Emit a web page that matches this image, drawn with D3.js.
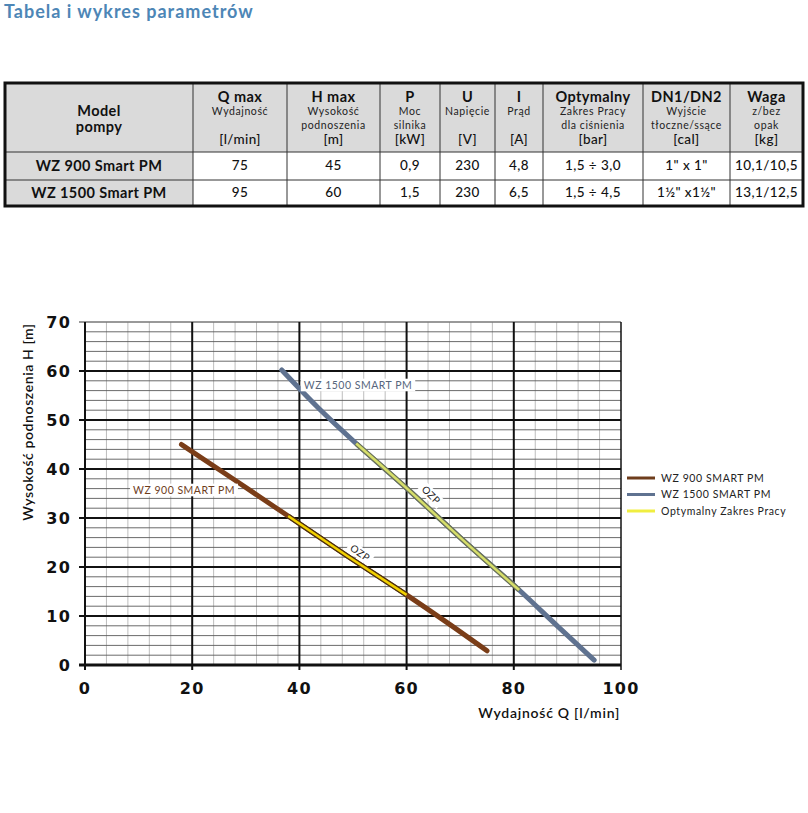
<!DOCTYPE html>
<html><head><meta charset="utf-8">
<script src="https://cdn.jsdelivr.net/npm/d3@7"></script>
<style>
html,body{margin:0;padding:0;background:#fff;}
svg{display:block;font-family:Lato, "Open Sans", sans-serif;}
</style></head>
<body>
<svg id="c" width="808" height="813"></svg>
<script>
// ---------- DATA ----------
const title = "Tabela i wykres parametrów";
const headTitles = ["", "Q max", "H max", "P", "U", "I", "Optymalny", "DN1/DN2", "Waga"];
const headSubs = [["Model","pompy"], ["Wydajność"], ["Wysokość","podnoszenia"], ["Moc","silnika"], ["Napięcie"], ["Prąd"], ["Zakres Pracy","dla ciśnienia"], ["Wyjście","tłoczne/ssące"], ["z/bez","opak"]];
const headUnits = ["", "[l/min]", "[m]", "[kW]", "[V]", "[A]", "[bar]", "[cal]", "[kg]"];
const row1 = ["WZ 900 Smart PM", "75", "45", "0,9", "230", "4,8", "1,5 ÷ 3,0", "1\" x 1\"", "10,1/10,5"];
const row2 = ["WZ 1500 Smart PM", "95", "60", "1,5", "230", "6,5", "1,5 ÷ 4,5", "1½\" x1½\"", "13,1/12,5"];

const seriesNames = ["WZ 900 SMART PM", "WZ 1500 SMART PM", "Optymalny Zakres Pracy"];
const wz900Q = [18, 28, 37.9, 49, 60, 67.5, 75];
const wz900H = [45, 37.7, 30.4, 22.2, 14.3, 8.7, 2.9];
const wz1500Q = [36.7, 43.5, 50.6, 60, 70, 81, 88, 95];
const wz1500H = [60.2, 52.5, 45.2, 36.1, 26, 15.3, 8.1, 1];
const ozp900Q = [37.9, 49, 60];
const ozp900H = [30.4, 22.2, 14.3];
const ozp1500Q = [50.6, 60, 70, 81];
const ozp1500H = [45.2, 36.1, 26, 15.3];
const xTicks = [0, 20, 40, 60, 80, 100];
const yTicks = [0, 10, 20, 30, 40, 50, 60, 70];
const xTitle = "Wydajność Q [l/min]";
const yTitle = "Wysokość podnoszenia H [m]";

// ---------- DRAW ----------
const svg = d3.select("#c");

svg.append("text").attr("x", 4).attr("y", 18).attr("font-size", 18).attr("font-weight", 700)
  .attr("letter-spacing", 1).attr("fill", "#4d86b6").text(title);

// table
const colX = [5, 193, 287, 380, 440, 495, 543, 643, 730, 803];
const rowY = [83, 152, 180, 206];
const tbl = svg.append("g").attr("letter-spacing", 0.4);
tbl.append("rect").attr("x", colX[0]).attr("y", rowY[0]).attr("width", colX[9]-colX[0]).attr("height", rowY[1]-rowY[0]).attr("fill", "#dadada");
tbl.append("rect").attr("x", colX[0]).attr("y", rowY[0]).attr("width", colX[1]-colX[0]).attr("height", rowY[3]-rowY[0]).attr("fill", "#dadada");
for (let i = 1; i < 9; i++) tbl.append("line").attr("x1", colX[i]).attr("x2", colX[i]).attr("y1", rowY[0]).attr("y2", rowY[3]).attr("stroke", "#333").attr("stroke-width", 1);
for (let j = 1; j < 3; j++) tbl.append("line").attr("x1", colX[0]).attr("x2", colX[9]).attr("y1", rowY[j]).attr("y2", rowY[j]).attr("stroke", "#333").attr("stroke-width", 1);
tbl.append("rect").attr("x", colX[0]).attr("y", rowY[0]).attr("width", colX[9]-colX[0]).attr("height", rowY[3]-rowY[0])
  .attr("fill", "none").attr("stroke", "#111").attr("stroke-width", 3);

for (let i = 0; i < 9; i++) {
  const cx = (colX[i] + colX[i+1]) / 2;
  const g = tbl.append("g").attr("text-anchor", "middle").attr("fill", "#111");
  if (i === 0) {
    headSubs[0].forEach((t, k) => g.append("text").attr("x", cx).attr("y", 111 + k*16).attr("dy", "0.35em")
      .attr("font-size", 14.5).attr("font-weight", 700).text(t));
  } else {
    g.append("text").attr("x", cx).attr("y", 97).attr("dy", "0.35em").attr("font-size", 14.5).attr("font-weight", 700).text(headTitles[i]);
    headSubs[i].forEach((t, k) => g.append("text").attr("x", cx).attr("y", 111.5 + k*13.5).attr("dy", "0.35em")
      .attr("font-size", 10.5).attr("letter-spacing", 0.6).attr("fill", "#222").text(t));
    g.append("text").attr("x", cx).attr("y", 139.5).attr("dy", "0.35em").attr("font-size", 13.5).attr("font-weight", 500).text(headUnits[i]);
  }
  [row1, row2].forEach((r, k) => {
    g.append("text").attr("x", cx).attr("y", k === 0 ? 165.5 : 192.5).attr("dy", "0.35em")
      .attr("font-size", i === 0 ? 14.5 : 13.5).attr("font-weight", i === 0 ? 700 : 500).text(r[i]);
  });
}

// chart
const x = d3.scaleLinear().domain([0, 100]).range([85, 621]);
const y = d3.scaleLinear().domain([0, 70]).range([665, 322]);
const grid = svg.append("g");
d3.range(0, 101, 4).filter(v => v % 20 !== 0).forEach(v => {
  grid.append("line").attr("x1", x(v)).attr("x2", x(v)).attr("y1", y(70)).attr("y2", y(0)).attr("stroke", "#bdbdbd").attr("stroke-width", 1);
});
d3.range(2, 70, 2).filter(v => v % 10 !== 0).forEach(v => {
  grid.append("line").attr("x1", x(0)).attr("x2", x(100)).attr("y1", y(v)).attr("y2", y(v)).attr("stroke", "#5a5a5a").attr("stroke-width", 0.9);
});
grid.append("line").attr("x1", x(0)-6).attr("x2", x(100)).attr("y1", y(70)).attr("y2", y(70)).attr("stroke", "#777").attr("stroke-width", 1.5);
yTicks.filter(v => v > 0 && v < 70).forEach(v => {
  grid.append("line").attr("x1", x(0)-6).attr("x2", x(100)).attr("y1", y(v)).attr("y2", y(v)).attr("stroke", "#111").attr("stroke-width", 2.2);
});
xTicks.forEach(v => {
  grid.append("line").attr("x1", x(v)).attr("x2", x(v)).attr("y1", y(70)).attr("y2", y(0)+5)
    .attr("stroke", "#111").attr("stroke-width", v === 100 ? 1.5 : 2);
});
grid.append("line").attr("x1", x(0)-6).attr("x2", x(100)).attr("y1", y(0)).attr("y2", y(0)).attr("stroke", "#111").attr("stroke-width", 3);

// tick labels
const tickFont = "'DejaVu Sans', Lato, sans-serif";
svg.append("g").selectAll("text").data(yTicks).join("text")
  .attr("x", 71).attr("y", d => y(d)).attr("dy", "0.36em").attr("text-anchor", "end")
  .attr("font-family", tickFont).attr("font-size", 16).attr("font-weight", 600).attr("letter-spacing", 1.2)
  .attr("fill", "#111").text(d => d);
svg.append("g").selectAll("text").data(xTicks).join("text")
  .attr("x", d => x(d)).attr("y", 688).attr("dy", "0.36em").attr("text-anchor", "middle")
  .attr("font-family", tickFont).attr("font-size", 16).attr("font-weight", 600).attr("letter-spacing", 1.2)
  .attr("fill", "#111").text(d => d);
svg.append("text").attr("x", 620).attr("y", 713).attr("dy", "0.35em").attr("text-anchor", "end")
  .attr("font-size", 14).attr("font-weight", 600).attr("letter-spacing", 0.75).attr("fill", "#111").text(xTitle);
svg.append("text").attr("transform", "translate(28,422) rotate(-90)").attr("dy", "0.35em").attr("text-anchor", "middle")
  .attr("font-size", 14).attr("font-weight", 600).attr("letter-spacing", 0.6).attr("fill", "#111").text(yTitle);

// curves
const line = d3.line().x(d => x(d[0])).y(d => y(d[1])).curve(d3.curveMonotoneX);
const zip = (a, b) => a.map((v, i) => [v, b[i]]);
const curves = svg.append("g").attr("fill", "none").attr("stroke-linecap", "round").attr("stroke-linejoin", "round");
curves.append("path").attr("d", line(zip(wz900Q, wz900H))).attr("stroke", "#7a3d18").attr("stroke-width", 5);
curves.append("path").attr("d", line(zip(wz1500Q, wz1500H))).attr("stroke", "#5f7290").attr("stroke-width", 5);
curves.append("path").attr("d", line(zip(ozp900Q, ozp900H))).attr("stroke", "#4a3010").attr("stroke-width", 5).attr("stroke-linecap", "butt");
curves.append("path").attr("d", line(zip(ozp900Q, ozp900H))).attr("stroke", "#f2d000").attr("stroke-width", 2.6).attr("stroke-linecap", "butt");
curves.append("path").attr("d", line(zip(ozp1500Q, ozp1500H))).attr("stroke", "#6b7258").attr("stroke-width", 5).attr("stroke-linecap", "butt");
curves.append("path").attr("d", line(zip(ozp1500Q, ozp1500H))).attr("stroke", "#d6de6a").attr("stroke-width", 2.6).attr("stroke-linecap", "butt");

// curve labels
function label(txt, cx, cy, rot, color, fs) {
  const g = svg.append("g").attr("transform", `translate(${cx},${cy}) rotate(${rot})`);
  const t = g.append("text").attr("text-anchor", "middle").attr("dy", "0.35em").attr("font-size", fs)
    .attr("letter-spacing", 0.5).attr("fill", color).text(txt);
  const w = t.node().getComputedTextLength();
  g.insert("rect", "text").attr("x", -w/2 - 3).attr("y", -fs*0.6).attr("width", w + 6).attr("height", fs*1.2).attr("fill", "#fff");
}
label(seriesNames[0], 184, 490, 0, "#6e3d1c", 10.5);
label(seriesNames[1], 358, 385, 0, "#56657c", 10.5);
label("OZP", 360, 553, 35, "#222", 10);
label("OZP", 431, 495, 45, "#222", 10);

// legend
const legColors = ["#6e3d1c", "#5f7290", "#f0ee40"];
const leg = svg.append("g");
seriesNames.forEach((n, i) => {
  const yy = 478 + i*16.5;
  leg.append("line").attr("x1", 627).attr("x2", 655).attr("y1", yy).attr("y2", yy).attr("stroke", legColors[i]).attr("stroke-width", 3);
  leg.append("text").attr("x", 661).attr("y", yy).attr("dy", "0.35em").attr("font-size", 10.5)
    .attr("letter-spacing", 0.6).attr("fill", "#222").text(n);
});
</script>
</body></html>
